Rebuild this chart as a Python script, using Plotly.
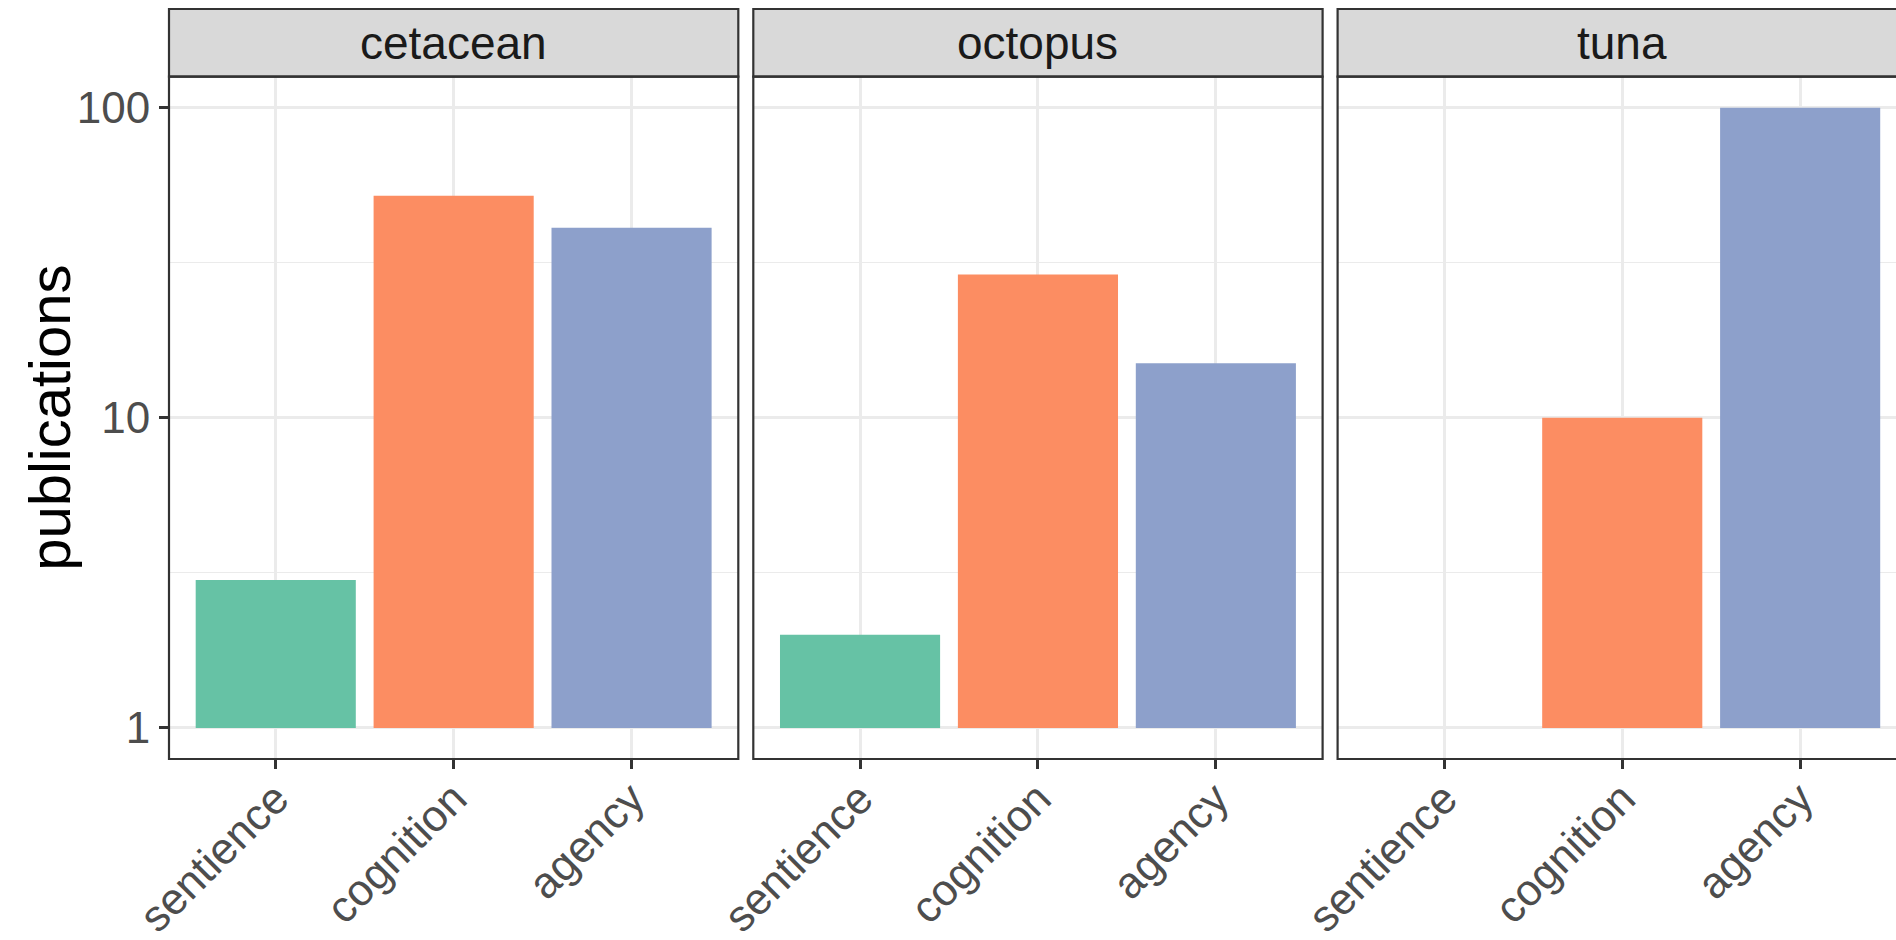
import plotly.graph_objects as go

# ---- data ----
species = ["cetacean", "octopus", "tuna"]
categories = ["sentience", "cognition", "agency"]
cetacean = [3, 52, 41]
octopus = [2, 29, 15]
tuna = [None, 10, 100]
bar_colors = ["#66C2A5", "#FC8D62", "#8DA0CB"]
y_tickvals = [1, 10, 100]
y_ticktext = ["1", "10", "100"]
y_minor = [3.162, 31.62]
values = [cetacean, octopus, tuna]

# ---- layout constants (pixels) ----
W, H = 1896, 940
ML, MR, MT, MB = 169, 0, 9, 181
plot_w = W - ML - MR
plot_h = H - MT - MB
panel_left = [169.0, 753.3, 1337.6]
panel_w = 569.3
strip_top = 9.0
strip_bot = 76.7
panel_bot = 759.0
n_units = 3.2  # categories span -0.6 .. 2.6

def px2x(p):
    return (p - ML) / plot_w

def py2y(p):
    return (H - MB - p) / plot_h

fig = go.Figure()
shapes = []
annotations = []
FONT = "Arial, Liberation Sans, sans-serif"

for i, sp in enumerate(species):
    left = panel_left[i]
    right = left + panel_w
    vis_right = min(right, W)
    xa = "x" if i == 0 else f"x{i+1}"
    ya = "y" if i == 0 else f"y{i+1}"
    vals = values[i]
    fig.add_trace(go.Bar(
        x=categories,
        y=[(v - 1) if v is not None else None for v in vals],
        base=1,
        width=0.9,
        marker=dict(color=bar_colors, line=dict(width=0)),
        customdata=vals,
        hovertemplate="%{x}: %{customdata}<extra>" + sp + "</extra>",
        xaxis=xa, yaxis=ya, showlegend=False,
    ))
    xrange_end = -0.6 + (vis_right - left) / panel_w * n_units
    xkey = "xaxis" if i == 0 else f"xaxis{i+1}"
    ykey = "yaxis" if i == 0 else f"yaxis{i+1}"
    fig.layout[xkey] = dict(
        domain=[px2x(left), min(1.0, px2x(right))],
        anchor=ya,
        type="category",
        range=[-0.6, xrange_end],
        automargin=False,
        showgrid=True, gridcolor="#EBEBEB", gridwidth=2.6,
        zeroline=False, showline=False,
        ticks="outside", ticklen=9, tickwidth=2.6, tickcolor="#333333",
        tickangle=-45, ticklabelstandoff=-14,
        tickfont=dict(family=FONT, size=44, color="#4D4D4D"),
        fixedrange=True,
    )
    ydict = dict(
        domain=[0, py2y(strip_bot)],
        anchor=xa,
        type="log",
        range=[-0.1, 2.1],
        automargin=False,
        tickvals=y_tickvals, ticktext=y_ticktext,
        showgrid=True, gridcolor="#EBEBEB", gridwidth=2.6,
        minor=dict(tickvals=y_minor, showgrid=True, gridcolor="#EBEBEB",
                   gridwidth=1.3, ticks=""),
        zeroline=False, showline=False,
        fixedrange=True,
    )
    if i == 0:
        ydict.update(ticks="outside", ticklen=9, tickwidth=2.6, tickcolor="#333333",
                     showticklabels=True,
                     tickfont=dict(family=FONT, size=44, color="#4D4D4D"))
    else:
        ydict.update(ticks="", showticklabels=False, matches="y")
    fig.layout[ykey] = ydict

    rx = px2x(right) if right <= W else px2x(right + 4)
    # strip
    shapes.append(dict(type="rect", xref="paper", yref="paper",
                       x0=px2x(left), x1=rx, y0=py2y(strip_bot), y1=py2y(strip_top),
                       fillcolor="#D9D9D9", line=dict(color="#333333", width=2.2),
                       layer="above"))
    # panel border
    shapes.append(dict(type="rect", xref="paper", yref="paper",
                       x0=px2x(left), x1=rx, y0=py2y(panel_bot), y1=py2y(strip_bot),
                       fillcolor="rgba(0,0,0,0)", line=dict(color="#333333", width=2.2),
                       layer="above"))
    annotations.append(dict(
        text=sp, xref="paper", yref="paper",
        x=px2x(left + panel_w / 2), y=py2y((strip_top + strip_bot) / 2),
        xanchor="center", yanchor="middle", showarrow=False,
        font=dict(family=FONT, size=46, color="#1A1A1A"),
    ))

annotations.append(dict(
    text="publications", xref="paper", yref="paper",
    x=px2x(50), y=py2y((strip_bot + panel_bot) / 2),
    xanchor="center", yanchor="middle", textangle=-90, showarrow=False,
    font=dict(family=FONT, size=58, color="#000000"),
))

fig.update_layout(
    width=W, height=H,
    margin=dict(l=ML, r=MR, t=MT, b=MB, pad=0, autoexpand=False),
    plot_bgcolor="white", paper_bgcolor="white",
    shapes=shapes, annotations=annotations,
    showlegend=False, bargap=0.1,
)

fig.write_html(
    "out.html",
    config={"displayModeBar": False},
    post_script="document.body.style.margin='0';document.body.style.overflow='hidden';",
)
